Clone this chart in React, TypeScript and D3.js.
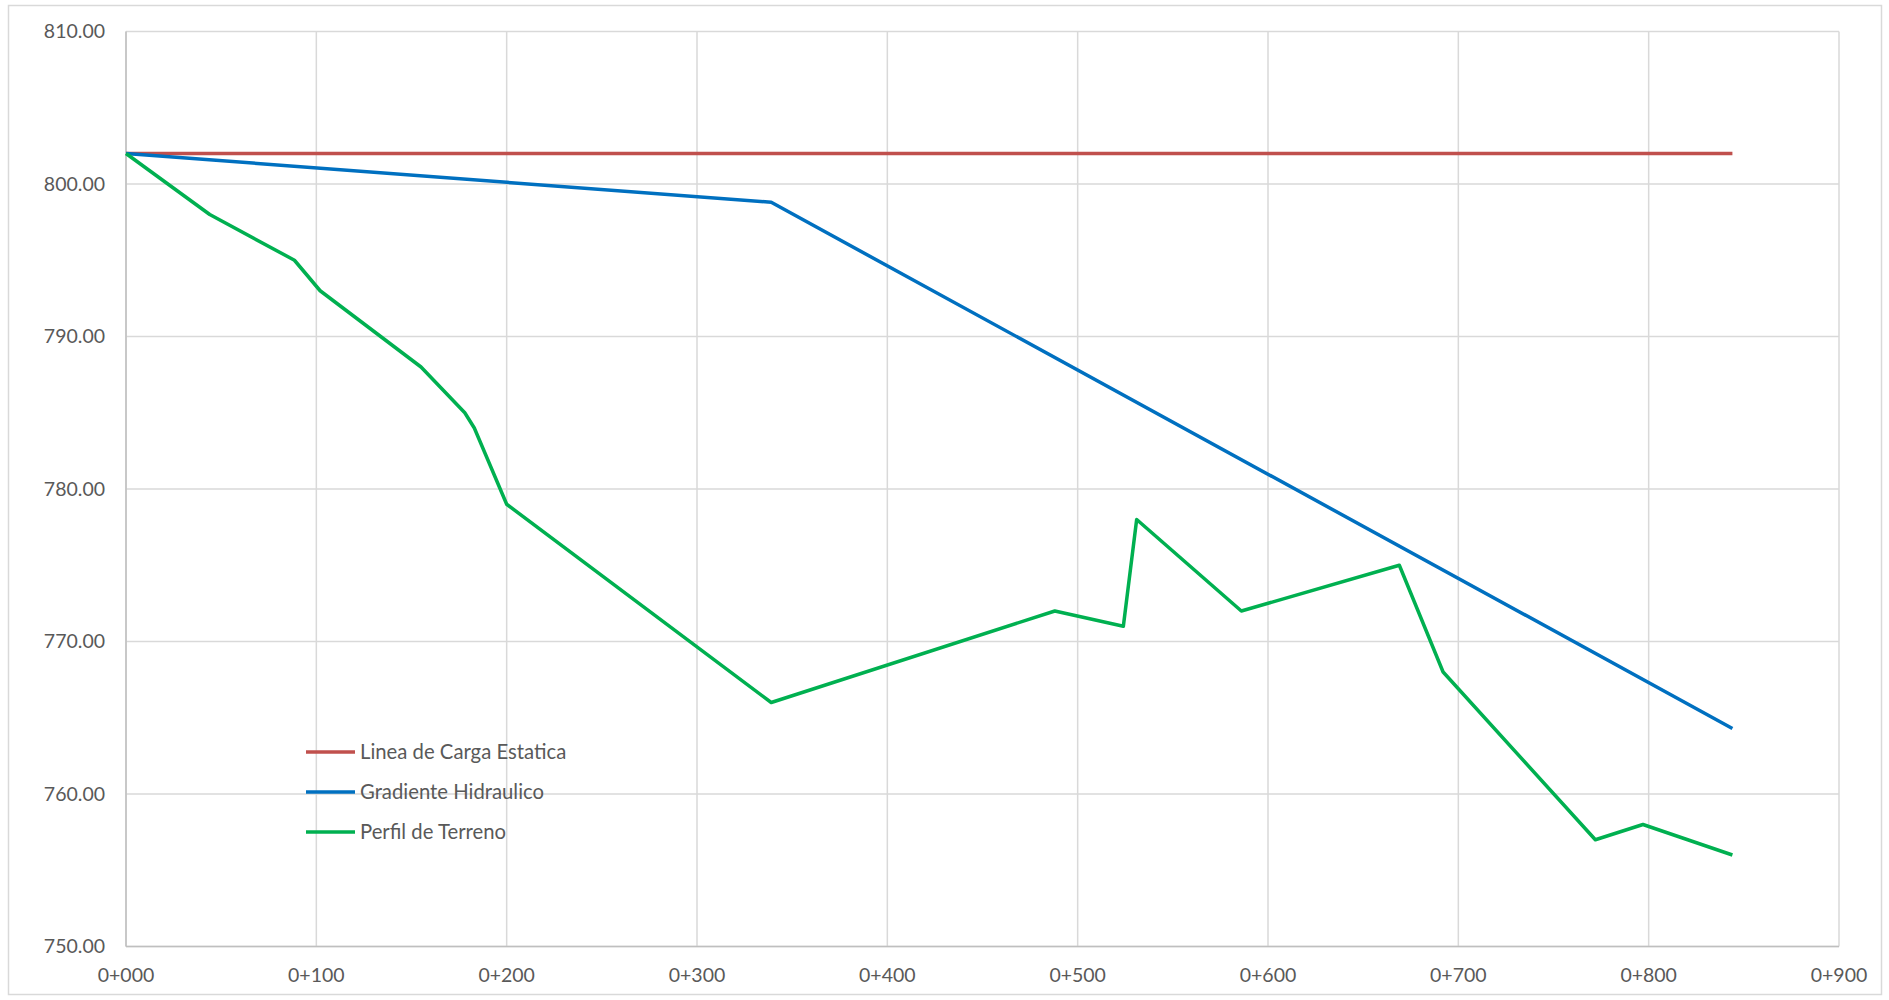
import React from "react";
import * as d3 from "d3";

const stations: number[] = [0, 44, 88.5, 102, 155, 178, 183, 200, 339, 488, 524, 531, 586, 669, 692, 772, 797, 844];
const terreno: number[] = [802, 798, 795, 793, 788, 785, 784, 779, 766, 772, 771, 778, 772, 775, 768, 757, 758, 756];

const gradStations: number[] = [0, 339, 844];
const gradiente: number[] = [802, 798.8, 764.3];

const cargaStations: number[] = [0, 844];
const carga: number[] = [802, 802];

const xTicks: number[] = [0, 100, 200, 300, 400, 500, 600, 700, 800, 900];
const yTicks: number[] = [750, 760, 770, 780, 790, 800, 810];

const seriesNames: string[] = ["Linea de Carga Estatica", "Gradiente Hidraulico", "Perfil de Terreno"];
const seriesColors: string[] = ["#C0504D", "#0070C0", "#00B050"];

const W = 1889;
const H = 1000;
const M = { left: 126, right: 1839, top: 31.5, bottom: 946.5 };
const FONT = "Lato, 'Open Sans', sans-serif";

export default function App() {
  const x = d3.scaleLinear().domain([0, 900]).range([M.left, M.right]);
  const y = d3.scaleLinear().domain([750, 810]).range([M.bottom, M.top]);

  const line = d3
    .line<[number, number]>()
    .x((d) => x(d[0]))
    .y((d) => y(d[1]));

  const series: [number, number][][] = [
    cargaStations.map((s, i) => [s, carga[i]] as [number, number]),
    gradStations.map((s, i) => [s, gradiente[i]] as [number, number]),
    stations.map((s, i) => [s, terreno[i]] as [number, number]),
  ];

  const fmtX = (v: number) => "0+" + d3.format("03d")(v);
  const fmtY = d3.format(".2f");

  const legendX = 306;
  const legendY0 = 752;
  const legendDy = 40;

  return (
    <div style={{ position: "absolute", left: 0, top: 0 }}>
      <svg width={W} height={H} style={{ display: "block", background: "#fff" }}>
        <rect x={8.5} y={5.5} width={1873} height={989} fill="#fff" stroke="#D9D9D9" strokeWidth={1.5} />
        {yTicks.map((t) => (
          <line key={"gy" + t} x1={M.left} x2={M.right} y1={y(t)} y2={y(t)} stroke="#D9D9D9" strokeWidth={1.5} />
        ))}
        {xTicks.map((t) => (
          <line key={"gx" + t} x1={x(t)} x2={x(t)} y1={M.top} y2={M.bottom} stroke="#D9D9D9" strokeWidth={1.5} />
        ))}
        <line x1={M.left} x2={M.left} y1={M.top} y2={M.bottom} stroke="#BFBFBF" strokeWidth={1.5} />
        <line x1={M.left} x2={M.right} y1={M.bottom} y2={M.bottom} stroke="#BFBFBF" strokeWidth={1.5} />
        {yTicks.map((t) => (
          <text key={"ly" + t} x={105} y={y(t)} dy="0.35em" textAnchor="end" fontFamily={FONT} fontSize={19.5} fill="#595959">
            {fmtY(t)}
          </text>
        ))}
        {xTicks.map((t) => (
          <text key={"lx" + t} x={x(t)} y={975} dy="0.35em" textAnchor="middle" fontFamily={FONT} fontSize={19.5} fill="#595959">
            {fmtX(t)}
          </text>
        ))}
        {series.map((s, i) => (
          <path key={"s" + i} d={line(s) || ""} fill="none" stroke={seriesColors[i]} strokeWidth={3.5} strokeLinejoin="round" />
        ))}
        {seriesNames.map((n, i) => (
          <g key={"lg" + i}>
            <line x1={legendX} x2={legendX + 49} y1={legendY0 + i * legendDy} y2={legendY0 + i * legendDy} stroke={seriesColors[i]} strokeWidth={3.5} />
            <text x={legendX + 54} y={legendY0 + i * legendDy} dy="0.35em" fontFamily={FONT} fontSize={20.3} fill="#595959">
              {n}
            </text>
          </g>
        ))}
      </svg>
    </div>
  );
}
